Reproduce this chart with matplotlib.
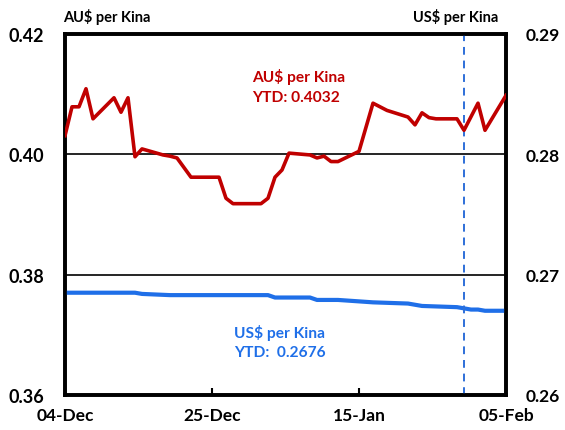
import datetime as dt
import matplotlib
matplotlib.use("Agg")
import matplotlib.pyplot as plt
import matplotlib.dates as mdates

plt.rcParams["font.family"] = ["Lato", "DejaVu Sans"]
plt.rcParams["font.weight"] = "bold"

# AU$ per Kina, daily (business days)
aud_dates = ["2023-12-04", "2023-12-05", "2023-12-06", "2023-12-07", "2023-12-08",
             "2023-12-11", "2023-12-12", "2023-12-13", "2023-12-14", "2023-12-15",
             "2023-12-18", "2023-12-19", "2023-12-20", "2023-12-22", "2023-12-26",
             "2023-12-27", "2023-12-28", "2023-12-29", "2024-01-01", "2024-01-02",
             "2024-01-03", "2024-01-04", "2024-01-05", "2024-01-08", "2024-01-09",
             "2024-01-10", "2024-01-11", "2024-01-12", "2024-01-15", "2024-01-17",
             "2024-01-19", "2024-01-22", "2024-01-23", "2024-01-24", "2024-01-25",
             "2024-01-26", "2024-01-29", "2024-01-30", "2024-02-01", "2024-02-02",
             "2024-02-05"]
aud_values = [0.4031, 0.4079, 0.4079, 0.4109, 0.4059,
              0.4094, 0.4070, 0.4094, 0.3996, 0.4009,
              0.3999, 0.3997, 0.3994, 0.3962, 0.3962,
              0.3927, 0.3918, 0.3918, 0.3918, 0.3927,
              0.3962, 0.3974, 0.4002, 0.3999, 0.3994,
              0.3997, 0.3988, 0.3988, 0.4005, 0.4085,
              0.4073, 0.4062, 0.4049, 0.4069, 0.4061,
              0.4059, 0.4059, 0.4040, 0.4085, 0.4040,
              0.4098]

# US$ per Kina
usd_dates = ["2023-12-04", "2023-12-14", "2023-12-15", "2023-12-19", "2024-01-02",
             "2024-01-03", "2024-01-08", "2024-01-09", "2024-01-12", "2024-01-17",
             "2024-01-22", "2024-01-24", "2024-01-29", "2024-01-31", "2024-02-01",
             "2024-02-02", "2024-02-05"]
usd_values = [0.2685, 0.2685, 0.2684, 0.2683, 0.2683,
              0.2681, 0.2681, 0.2679, 0.2679, 0.2677,
              0.2676, 0.2674, 0.2673, 0.2671, 0.2671,
              0.2670, 0.2670]

x_ticks = ["2023-12-04", "2023-12-25", "2024-01-15", "2024-02-05"]
left_ticks = [0.36, 0.38, 0.40, 0.42]
right_ticks = [0.26, 0.27, 0.28, 0.29]
marker_date = "2024-01-30"

aud_ytd = "0.4032"
usd_ytd = "0.2676"

RED = "#C00000"
BLUE = "#1F6FE8"
DASH_BLUE = "#2E6FD8"


def to_dates(items):
    return [dt.datetime.strptime(s, "%Y-%m-%d") for s in items]


fig = plt.figure(figsize=(5.65, 4.31), dpi=100)
ax = fig.add_axes([65 / 565, 1 - 396 / 431, 441 / 565, 361 / 431])
ax2 = ax.twinx()

ax.plot(to_dates(aud_dates), aud_values, color=RED, lw=2.6, zorder=3)
ax2.plot(to_dates(usd_dates), usd_values, color=BLUE, lw=3.0, zorder=3)

ax.set_zorder(ax2.get_zorder() + 1)
ax.patch.set_visible(False)

xt = to_dates(x_ticks)
ax.set_xlim(xt[0], xt[-1])
ax.set_ylim(0.36, 0.42)
ax2.set_ylim(0.26, 0.29)

ax.set_xticks(xt)
ax.xaxis.set_major_formatter(mdates.DateFormatter("%d-%b"))
ax.set_yticks(left_ticks)
ax.set_yticklabels([f"{v:.2f}" for v in left_ticks])
ax2.set_yticks(right_ticks)
ax2.set_yticklabels([f"{v:.2f}" for v in right_ticks])

for v in left_ticks[1:3]:
    ax.axhline(v, color="black", lw=1.2, zorder=1)

ax.axvline(to_dates([marker_date])[0], color=DASH_BLUE, lw=1.4,
           ls=(0, (4, 3)), zorder=2)

for a in (ax, ax2):
    for s in a.spines.values():
        s.set_linewidth(2.6)
        s.set_color("black")

ax.tick_params(axis="x", direction="in", length=5, width=1.5, pad=9,
               labelsize=12.5)
ax.tick_params(axis="y", length=0, pad=15, labelsize=13)
ax2.tick_params(axis="y", length=0, pad=14, labelsize=12.5)
for lab in ax.get_xticklabels() + ax.get_yticklabels() + ax2.get_yticklabels():
    lab.set_fontweight("bold")

fig.text(63 / 565, 1 - 17 / 431, "AU$ per Kina", fontsize=10.5,
         fontweight="bold", ha="left", va="center")
fig.text(498 / 565, 1 - 17 / 431, "US$ per Kina", fontsize=10.5,
         fontweight="bold", ha="right", va="center")

fig.text(252 / 565, 1 - 77 / 431, "AU$ per Kina", fontsize=11.2,
         fontweight="bold", color=RED, ha="left", va="center")
fig.text(252 / 565, 1 - 98 / 431, f"YTD: {aud_ytd}", fontsize=11.2,
         fontweight="bold", color=RED, ha="left", va="center")
fig.text(234 / 565, 1 - 333 / 431, "US$ per Kina", fontsize=11.2,
         fontweight="bold", color=BLUE, ha="left", va="center")
fig.text(234 / 565, 1 - 353 / 431, f"YTD:  {usd_ytd}", fontsize=11.2,
         fontweight="bold", color=BLUE, ha="left", va="center")

fig.savefig("out.png", dpi=100)
